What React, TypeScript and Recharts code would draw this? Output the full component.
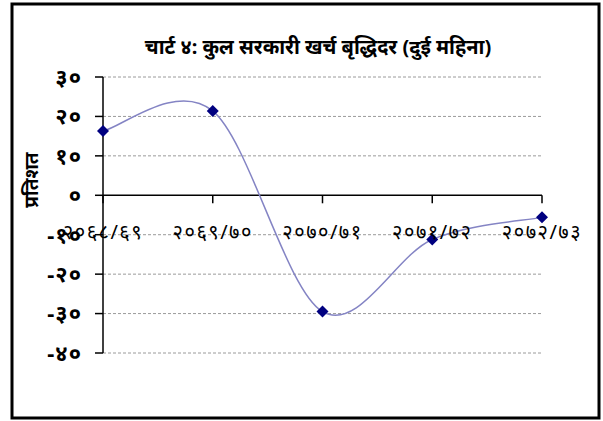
import React from "react";
import {
  LineChart,
  Line,
  XAxis,
  YAxis,
  CartesianGrid,
  ReferenceLine,
} from "recharts";

const categories = ["२०६८/६९", "२०६९/७०", "२०७०/७१", "२०७१/७२", "२०७२/७३"];
const growthRates = [16.3, 21.4, -29.5, -11.2, -5.6];
const yTicks = [30, 20, 10, 0, -10, -20, -30, -40];
const yTickLabels = ["३०", "२०", "१०", "०", "-१०", "-२०", "-३०", "-४०"];
const chartTitle = "चार्ट ४: कुल सरकारी खर्च बृद्धिदर (दुई महिना)";
const yAxisTitle = "प्रतिशत";

const data = categories.map((name, i) => ({ name, value: growthRates[i] }));

const W = 603;
const H = 421;
const xAxisHeight = 30;
const margin = { top: 77, right: 61, bottom: 68 - xAxisHeight, left: 0 };
const yAxisWidth = 103;
const yDomain: [number, number] = [-40, 30];
const FONT = "'Noto Sans', 'DejaVu Sans', sans-serif";

// pixel row of the value 0 (where the category axis sits)
const plotH = H - margin.top - margin.bottom - xAxisHeight;
const zeroY = margin.top + (plotH * yDomain[1]) / (yDomain[1] - yDomain[0]);

// Excel-style smoothed line (Catmull-Rom as cubic Bezier)
const excelSmooth = (context: any) => {
  let pts: [number, number][] = [];
  return {
    areaStart() {},
    areaEnd() {},
    lineStart() {
      pts = [];
    },
    lineEnd() {
      const n = pts.length;
      if (!n) return;
      context.moveTo(pts[0][0], pts[0][1]);
      for (let i = 0; i < n - 1; i++) {
        const p0 = pts[Math.max(i - 1, 0)];
        const p1 = pts[i];
        const p2 = pts[i + 1];
        const p3 = pts[Math.min(i + 2, n - 1)];
        context.bezierCurveTo(
          p1[0] + (p2[0] - p0[0]) / 6,
          p1[1] + (p2[1] - p0[1]) / 6,
          p2[0] - (p3[0] - p1[0]) / 6,
          p2[1] - (p3[1] - p1[1]) / 6,
          p2[0],
          p2[1]
        );
      }
    },
    point(x: number, y: number) {
      pts.push([+x, +y]);
    },
  };
};

const Diamond = (props: any) => {
  const { cx, cy } = props;
  if (cx == null || cy == null) return null;
  const r = 6;
  return (
    <path
      d={`M${cx},${cy - r}L${cx + r},${cy}L${cx},${cy + r}L${cx - r},${cy}Z`}
      fill="#000080"
    />
  );
};

const CategoryTick = (props: any) => {
  const { x, payload } = props;
  return (
    <g>
      <line x1={x} y1={zeroY} x2={x} y2={zeroY + 8} stroke="#000" strokeWidth={1.5} />
      <text
        x={x}
        y={zeroY + 44}
        textAnchor="middle"
        fontSize={20}
        letterSpacing={1.5}
        fontFamily={FONT}
        fill="#000"
      >
        {payload.value}
      </text>
    </g>
  );
};

export default function App() {
  return (
    <div style={{ position: "absolute", left: 0, top: 0, width: W, height: H, background: "#fff" }}>
      <svg width={W} height={H} style={{ position: "absolute", left: 0, top: 0 }}>
        <rect x={12} y={4} width={587} height={414} fill="#fff" stroke="#000" strokeWidth={3} />
        <text
          x={318}
          y={54}
          textAnchor="middle"
          fontSize={20}
          fontWeight="bold"
          fontFamily={FONT}
          fill="#000"
        >
          {chartTitle}
        </text>
        <text
          x={38}
          y={180}
          textAnchor="middle"
          fontSize={19}
          fontWeight="bold"
          fontFamily={FONT}
          fill="#000"
          transform="rotate(-90 38 180)"
        >
          {yAxisTitle}
        </text>
      </svg>
      <div style={{ position: "absolute", left: 0, top: 0 }}>
        <LineChart width={W} height={H} data={data} margin={margin}>
          <CartesianGrid
            horizontal
            vertical={false}
            strokeDasharray="3 2"
            stroke="#9a9a9a"
            horizontalValues={yTicks.filter((t) => t !== 0)}
          />
          <XAxis
            dataKey="name"
            height={xAxisHeight}
            axisLine={false}
            tickLine={false}
            interval={0}
            tick={<CategoryTick />}
          />
          <YAxis
            width={yAxisWidth}
            domain={yDomain}
            ticks={yTicks}
            interval={0}
            axisLine={{ stroke: "#000", strokeWidth: 1.5 }}
            tickLine={{ stroke: "#000", strokeWidth: 1.5 }}
            tickSize={8}
            tickMargin={13}
            tick={{ fontSize: 22, fontFamily: FONT, fill: "#000", fontWeight: "bold", letterSpacing: 1 }}
            tickFormatter={(v: number) => yTickLabels[yTicks.indexOf(v)] ?? String(v)}
          />
          <ReferenceLine y={0} stroke="#000" strokeWidth={1.5} />
          <Line
            type={excelSmooth as any}
            dataKey="value"
            stroke="#8484c4"
            strokeWidth={1.5}
            dot={<Diamond />}
            activeDot={false}
            isAnimationActive={false}
          />
        </LineChart>
      </div>
    </div>
  );
}
